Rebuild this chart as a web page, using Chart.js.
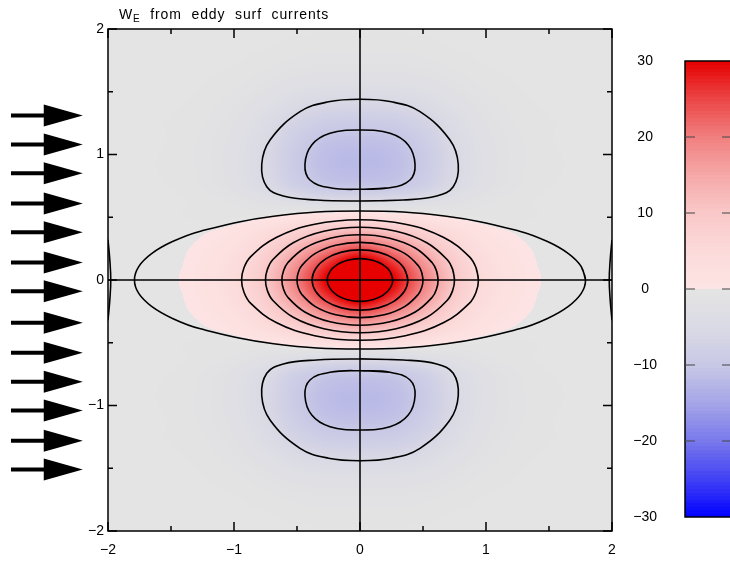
<!DOCTYPE html>
<html>
<head>
<meta charset="utf-8">
<script src="https://cdn.jsdelivr.net/npm/chart.js@4.4.1/dist/chart.umd.min.js"></script>
<style>
  html, body { margin: 0; padding: 0; background: #fff; overflow: hidden; }
  #wrap { position: relative; width: 730px; height: 562px; }
  #main { position: absolute; left: 0; top: 0; }
  #bar { position: absolute; left: 600px; top: 0; }
</style>
</head>
<body>
<div id="wrap">
  <canvas id="main" width="730" height="562"></canvas>
  <canvas id="bar" width="132" height="562"></canvas>
</div>
<script>
// Ekman pumping W_E, upper-right quadrant (x >= 0, y >= 0).
// The pattern is mirror symmetric about both axes.
const xNodes = [0, 0.25, 0.5, 0.75, 1, 1.25, 1.5, 1.75, 2]
const yNodes = [0, 0.125, 0.25, 0.375, 0.5, 0.625, 0.75, 0.875, 1, 1.125, 1.25, 1.375, 1.5, 1.625, 1.75, 1.875, 2]
const weQuadrant = [
  [38, 30.5, 20, 10, 4.2, 1.6, 0.4, 0, 0],
  [33.5, 27, 17.8, 9, 3.8, 1.4, 0.3, 0, 0],
  [24.2, 19.8, 13.2, 6.8, 2.8, 1.0, 0.3, 0, 0],
  [13.8, 11.4, 7.8, 4.0, 1.6, 0.5, 0.1, 0, 0],
  [3.5, 2.9, 1.8, 0.5, -0.3, -0.3, -0.2, -0.1, 0],
  [-4.6, -4.5, -3.6, -2.1, -0.9, -0.4, -0.1, 0, 0],
  [-10.3, -10, -8, -4.6, -2.1, -0.8, -0.3, -0.1, 0],
  [-11.8, -11.4, -9.2, -5.3, -2.4, -0.9, -0.4, -0.1, 0],
  [-11.9, -11.5, -9.3, -5.4, -2.4, -1.0, -0.4, -0.1, 0],
  [-10.9, -10.6, -8.5, -4.9, -2.2, -0.9, -0.3, -0.1, 0],
  [-9.1, -8.8, -7.1, -4.1, -1.8, -0.7, -0.3, -0.1, 0],
  [-6.5, -6.3, -5.1, -2.9, -1.3, -0.5, -0.2, 0, 0],
  [-4.0, -3.9, -3.1, -1.8, -0.8, -0.3, -0.1, 0, 0],
  [-2.2, -2.1, -1.7, -1.0, -0.4, -0.2, -0.1, 0, 0],
  [-1.1, -1.1, -0.9, -0.5, -0.2, -0.1, 0, 0, 0],
  [-0.5, -0.5, -0.4, -0.2, -0.1, 0, 0, 0, 0],
  [-0.2, -0.2, -0.2, -0.1, 0, 0, 0, 0, 0]
]

// contour arcs (quadrant), from the x axis round to the y axis
const positiveArcs = [
  [[1.79, 0], [1.756, 0.107], [1.654, 0.21], [1.488, 0.306], [1.266, 0.389], [0.685, 0.508], [0, 0.55]],
  [[0.94, 0], [0.922, 0.094], [0.869, 0.184], [0.665, 0.339], [0.36, 0.444], [0, 0.48]],
  [[0.75, 0], [0.736, 0.082], [0.693, 0.161], [0.53, 0.297], [0.287, 0.388], [0, 0.42]],
  [[0.62, 0], [0.608, 0.07], [0.573, 0.138], [0.438, 0.255], [0.237, 0.333], [0, 0.36]],
  [[0.5, 0], [0.49, 0.059], [0.462, 0.115], [0.354, 0.212], [0.192, 0.277], [0, 0.30]],
  [[0.38, 0], [0.351, 0.092], [0.269, 0.17], [0.146, 0.222], [0, 0.24]],
  [[0.26, 0], [0.24, 0.065], [0.184, 0.12], [0.10, 0.157], [0, 0.17]]
]
// negative lobe contours, right half, from the lower side up to the upper side
const lobeArcs = [
  [[0, 0.63], [0.344, 0.637], [0.609, 0.669], [0.74, 0.743], [0.78, 0.92], [0.714, 1.115], [0.476, 1.341], [0.25, 1.42], [0, 1.44]],
  [[0, 0.723], [0.238, 0.735], [0.397, 0.797], [0.437, 0.92], [0.383, 1.076], [0.238, 1.169], [0, 1.195]]
]
// short contour pieces against the side walls
const edgeArc = [[2, 0.32], [1.985, 0.15], [1.978, 0]]

// wind arrows on the left: y positions, and x of tail, head base, tip
const windArrowY = [1.31, 1.08, 0.85, 0.61, 0.38, 0.14, -0.09, -0.34, -0.58, -0.81, -1.04, -1.28, -1.51]
const windArrowX = [-2.77, -2.51, -2.2]

const axisTicks = [-2, -1.5, -1, -0.5, 0, 0.5, 1, 1.5, 2]
const colorbarTicks = [-30, -20, -10, 0, 10, 20, 30]

const FONT = '"Liberation Sans", Arial, sans-serif'
Chart.defaults.color = '#000'
Chart.defaults.font.family = FONT

const posStops = [[0, [253, 229, 229]], [5, [252, 218, 218]], [10, [249, 200, 200]], [15, [246, 168, 168]],
  [20, [241, 128, 128]], [25, [236, 70, 70]], [30, [230, 0, 0]]]
const negStops = [[0, [228, 228, 228]], [5, [218, 218, 229]], [10, [200, 200, 230]], [15, [165, 165, 232]],
  [20, [120, 120, 236]], [25, [65, 65, 245]], [30, [0, 0, 255]]]

// faint positive values are left grey, as in the shaded field
const PINK_FLOOR = 0.6

function colourFor(v, floor = 0) {
  const stops = v > floor ? posStops : negStops
  const a = v > floor ? Math.min(30, v) : Math.min(30, Math.max(0, -v))
  for (let i = 1; i < stops.length; i++) {
    if (a <= stops[i][0]) {
      const [a0, c0] = stops[i - 1], [a1, c1] = stops[i]
      const t = (a - a0) / (a1 - a0)
      return c0.map((c, k) => Math.round(c + (c1[k] - c) * t))
    }
  }
  return stops[stops.length - 1][1]
}

const minusLabel = v => (v < 0 ? '\u2212' : '') + Math.abs(v)

// --- field lookup: mirrored quadrant, Catmull-Rom between nodes
function node(i, j) {
  i = Math.abs(i); j = Math.abs(j)
  i = Math.min(i, xNodes.length - 1); j = Math.min(j, yNodes.length - 1)
  return weQuadrant[j][i]
}
function cr(p0, p1, p2, p3, t) {
  return 0.5 * (2 * p1 + (p2 - p0) * t + (2 * p0 - 5 * p1 + 4 * p2 - p3) * t * t + (3 * p1 - p0 - 3 * p2 + p3) * t * t * t)
}
function sampleField(x, y) {
  const u = Math.abs(x) / (xNodes[1] - xNodes[0])
  const w = Math.abs(y) / (yNodes[1] - yNodes[0])
  const i = Math.floor(u), j = Math.floor(w)
  const tx = u - i, ty = w - j
  const rows = []
  for (let dj = -1; dj <= 2; dj++) {
    rows.push(cr(node(i - 1, j + dj), node(i, j + dj), node(i + 1, j + dj), node(i + 2, j + dj), tx))
  }
  return cr(rows[0], rows[1], rows[2], rows[3], ty)
}

// --- contour rings built from the quadrant arcs
function mirrorRing(arc) {
  const pts = []
  const quads = [[1, 1, false], [-1, 1, true], [-1, -1, false], [1, -1, true]]
  quads.forEach(([sx, sy, rev], q) => {
    const seq = rev ? arc.slice().reverse() : arc
    seq.forEach(([x, y], i) => {
      if (q > 0 && i === 0) return
      pts.push({x: sx * x, y: sy * y})
    })
  })
  pts.push(pts[1])
  return pts
}
function mirrorLobe(arc, sy) {
  const right = arc.map(([x, y]) => ({x, y: sy * y}))
  const left = arc.slice(0, -1).reverse().map(([x, y]) => ({x: -x, y: sy * y}))
  const ring = [...right, ...left]
  ring.push(ring[1])
  return ring
}
function edgeLine(arc, sx) {
  const upper = arc.map(([x, y]) => ({x: sx * x, y}))
  const lower = arc.slice(0, -1).reverse().map(([x, y]) => ({x: sx * x, y: -y}))
  return [...upper, ...lower]
}

const contourLines = [
  ...positiveArcs.map(mirrorRing),
  ...lobeArcs.map(a => mirrorLobe(a, 1)),
  ...lobeArcs.map(a => mirrorLobe(a, -1)),
  edgeLine(edgeArc, 1),
  edgeLine(edgeArc, -1)
]

const heatmapPlugin = {
  id: 'heatmap',
  beforeDatasetsDraw(chart) {
    const {ctx, chartArea: a, scales: {x, y}} = chart
    const left = Math.round(a.left), top = Math.round(a.top)
    const w = Math.round(a.right) - left, h = Math.round(a.bottom) - top
    const img = ctx.createImageData(w, h)
    for (let py = 0; py < h; py++) {
      const vy = y.getValueForPixel(top + py + 0.5)
      for (let px = 0; px < w; px++) {
        const vx = x.getValueForPixel(left + px + 0.5)
        const c = colourFor(sampleField(vx, vy), PINK_FLOOR)
        const k = (py * w + px) * 4
        img.data[k] = c[0]; img.data[k + 1] = c[1]; img.data[k + 2] = c[2]; img.data[k + 3] = 255
      }
    }
    ctx.putImageData(img, left, top)

    // zero lines through the eddy centre
    ctx.save()
    ctx.strokeStyle = '#000'
    ctx.lineWidth = 1.5
    ctx.beginPath()
    ctx.moveTo(x.getPixelForValue(0), a.top)
    ctx.lineTo(x.getPixelForValue(0), a.bottom)
    ctx.moveTo(a.left, y.getPixelForValue(0))
    ctx.lineTo(a.right, y.getPixelForValue(0))
    ctx.stroke()
    ctx.restore()
  }
}

const framePlugin = {
  id: 'frame',
  afterDatasetsDraw(chart) {
    const {ctx, chartArea: a, scales: {x, y}} = chart
    ctx.save()
    ctx.strokeStyle = '#000'
    ctx.lineWidth = 1.5
    ctx.strokeRect(a.left, a.top, a.right - a.left, a.bottom - a.top)
    ctx.beginPath()
    axisTicks.forEach(v => {
      const len = Number.isInteger(v) ? 9 : 5
      const px = x.getPixelForValue(v), py = y.getPixelForValue(v)
      ctx.moveTo(px, a.bottom); ctx.lineTo(px, a.bottom - len)
      ctx.moveTo(px, a.top); ctx.lineTo(px, a.top + len)
      ctx.moveTo(a.left, py); ctx.lineTo(a.left + len, py)
      ctx.moveTo(a.right, py); ctx.lineTo(a.right - len, py)
    })
    ctx.stroke()
    ctx.restore()
  },
  afterDraw(chart) {
    const {ctx, scales: {x, y}} = chart
    ctx.save()
    // wind arrows
    ctx.fillStyle = '#000'
    ctx.strokeStyle = '#000'
    ctx.filter = 'blur(0.5px)'
    const [tail, base, tip] = windArrowX.map(v => x.getPixelForValue(v))
    windArrowY.forEach(v => {
      const py = y.getPixelForValue(v)
      ctx.lineWidth = 4
      ctx.beginPath()
      ctx.moveTo(tail, py); ctx.lineTo(base + 2, py)
      ctx.stroke()
      ctx.beginPath()
      ctx.moveTo(base, py - 11); ctx.lineTo(tip, py); ctx.lineTo(base, py + 11)
      ctx.closePath()
      ctx.fill()
    })
    ctx.filter = 'none'
    // title with subscript
    ctx.textBaseline = 'alphabetic'
    ctx.letterSpacing = '0.9px'
    ctx.font = '14px ' + FONT
    let tx = 119
    ctx.fillText('W', tx, 19)
    tx += ctx.measureText('W').width
    ctx.font = '10px ' + FONT
    ctx.fillText('E', tx, 22)
    tx += ctx.measureText('E').width
    ctx.font = '14px ' + FONT
    ctx.fillText('  from  eddy  surf  currents', tx, 19)
    ctx.restore()
  }
}

new Chart(document.getElementById('main'), {
  type: 'scatter',
  data: {
    datasets: contourLines.map(pts => ({
      data: pts,
      showLine: true,
      borderColor: '#000',
      borderWidth: 1.6,
      pointRadius: 0,
      tension: 0.4,
      fill: false
    }))
  },
  options: {
    responsive: false,
    animation: false,
    layout: {padding: {left: 68, right: 118, top: 29, bottom: 0}},
    plugins: {legend: {display: false}, tooltip: {enabled: false}},
    scales: {
      x: {
        type: 'linear', min: -2, max: 2,
        grid: {display: false, drawTicks: false},
        border: {display: false},
        afterBuildTicks: s => { s.ticks = axisTicks.map(v => ({value: v})) },
        afterFit: s => { s.height = 31 },
        ticks: {
          padding: 11, font: {size: 14}, maxRotation: 0, autoSkip: false,
          callback: v => Number.isInteger(v) ? minusLabel(v) : ''
        }
      },
      y: {
        type: 'linear', min: -2, max: 2,
        grid: {display: false, drawTicks: false},
        border: {display: false},
        afterBuildTicks: s => { s.ticks = axisTicks.map(v => ({value: v})) },
        afterFit: s => { s.width = 40 },
        ticks: {
          padding: 4, font: {size: 14}, autoSkip: false,
          callback: v => Number.isInteger(v) ? minusLabel(v) : ''
        }
      }
    }
  },
  plugins: [heatmapPlugin, framePlugin]
})

// --- colour bar
const colorbarPlugin = {
  id: 'colorbar',
  beforeDatasetsDraw(chart) {
    const {ctx, chartArea: a, scales: {y}} = chart
    const bands = 128
    const step = 60 / bands
    ctx.save()
    for (let k = 0; k < bands; k++) {
      const v0 = -30 + k * step, v1 = v0 + step
      const c = colourFor((v0 + v1) / 2)
      const top = Math.floor(y.getPixelForValue(v1)), bottom = Math.ceil(y.getPixelForValue(v0))
      ctx.fillStyle = `rgb(${c[0]},${c[1]},${c[2]})`
      ctx.fillRect(a.left, top, a.right - a.left, bottom - top)
    }
    ctx.strokeStyle = '#000'
    ctx.lineWidth = 1.5
    ctx.strokeRect(a.left, a.top, a.right - a.left, a.bottom - a.top)
    ctx.strokeStyle = '#444'
    ctx.lineWidth = 1.2
    ctx.beginPath()
    colorbarTicks.filter(v => Math.abs(v) < 30).forEach(v => {
      const py = y.getPixelForValue(v)
      ctx.moveTo(a.left, py); ctx.lineTo(a.left + 10, py)
      ctx.moveTo(a.right, py); ctx.lineTo(a.right - 10, py)
    })
    ctx.stroke()
    ctx.restore()
  }
}

new Chart(document.getElementById('bar'), {
  type: 'scatter',
  data: {datasets: []},
  options: {
    responsive: false,
    animation: false,
    layout: {padding: {left: 0, right: 0, top: 61, bottom: 45}},
    plugins: {legend: {display: false}, tooltip: {enabled: false}},
    scales: {
      x: {type: 'linear', min: 0, max: 1, display: false},
      y: {
        type: 'linear', min: -30, max: 30,
        grid: {display: false, drawTicks: false},
        border: {display: false},
        afterBuildTicks: s => { s.ticks = colorbarTicks.map(v => ({value: v})) },
        afterFit: s => { s.width = 85 },
        ticks: {padding: 28, font: {size: 14}, crossAlign: 'center', callback: v => minusLabel(v)}
      }
    }
  },
  plugins: [colorbarPlugin]
})
</script>
</body>
</html>
